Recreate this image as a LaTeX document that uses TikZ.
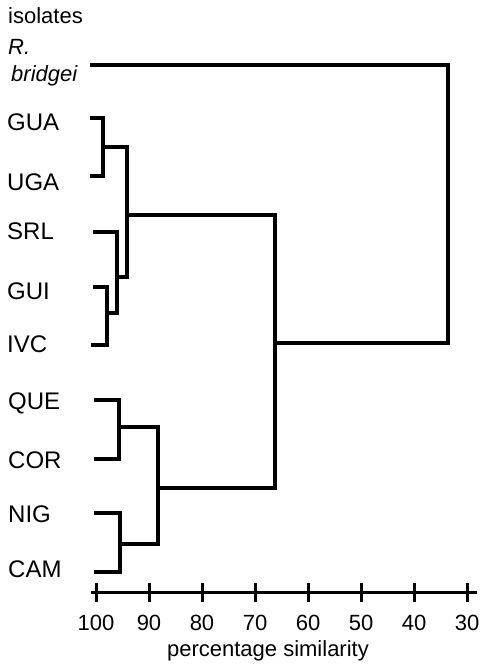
\documentclass[tikz,border=0pt]{standalone}
\usepackage{fontspec}
\setmainfont{Liberation Sans}
\begin{document}
\begin{tikzpicture}[x=1pt,y=-1pt,
  lbl/.style={anchor=west,inner sep=0pt,font=\fontsize{24}{26}\selectfont,text height=17pt,text depth=0pt},
  ticklbl/.style={anchor=center,inner sep=0pt,font=\fontsize{22}{24}\selectfont},
  dend/.style={line width=3.2pt,line cap=rect},
  axisline/.style={line width=3pt}]
\useasboundingbox (0,0) rectangle (479,666);
% labels
\node[lbl,font=\fontsize{22}{24}\selectfont] (iso) at (8,15) {isolates};
\node[lbl,font=\fontsize{22}{24}\selectfont\itshape] (r) at (8,46) {R.};
\node[lbl,font=\fontsize{22}{24}\selectfont\itshape] (rb) at (11,73) {bridgei};
\node[lbl] (gua) at (7,122) {GUA};
\node[lbl] (uga) at (7,182) {UGA};
\node[lbl] (srl) at (7,231) {SRL};
\node[lbl] (gui) at (7,291) {GUI};
\node[lbl] (ivc) at (7,344) {IVC};
\node[lbl] (que) at (8,401) {QUE};
\node[lbl] (cor) at (8,460) {COR};
\node[lbl] (nig) at (8,514) {NIG};
\node[lbl] (cam) at (8,569) {CAM};
% leaf ends
\coordinate (lrb) at (92,65);
\coordinate (lgua) at (92,118);
\coordinate (luga) at (92,176);
\coordinate (lsrl) at (95,232);
\coordinate (lgui) at (95,287);
\coordinate (livc) at (93,345);
\coordinate (lque) at (96,400);
\coordinate (lcor) at (96,459);
\coordinate (lnig) at (96,513);
\coordinate (lcam) at (96,572);
% joints
\coordinate (j1) at (103,147);
\coordinate (j2) at (107,313);
\coordinate (j3) at (117,277);
\coordinate (j4) at (127,215);
\coordinate (j5) at (119,427);
\coordinate (j6) at (120,544);
\coordinate (j7) at (158,488);
\coordinate (j8) at (275,343);
\coordinate (root) at (448,200);
% dendrogram
\draw[dend] (lgua) -| (j1) |- (luga);
\draw[dend] (lgui) -| (j2) |- (livc);
\draw[dend] (j2) -- (j2 -| j3);
\draw[dend] (lsrl) -| (j3) |- (j2);
\draw[dend] (j1) -| (j4) |- (j3);
\draw[dend] (lque) -| (j5) |- (lcor);
\draw[dend] (lnig) -| (j6) |- (lcam);
\draw[dend] (j5) -| (j7) |- (j6);
\draw[dend] (j4) -| (j8) |- (j7);
\draw[dend] (lrb) -| (root) |- (j8);
% axis
\coordinate (a0) at (91,592);
\coordinate (a1) at (477,592);
\draw[axisline] (a0) -- (a1);
\foreach \v [count=\i from 0] in {100,90,80,70,60,50,40,30} {
  \coordinate (t\i) at ({96+\i*53},592);
  \draw[axisline] ([yshift=9pt]t\i) -- ([yshift=-10pt]t\i);
  \node[ticklbl] (tl\i) at ([yshift=-31pt]t\i) {\v};
}
\node[ticklbl] (xlab) at (268,651) {percentage similarity};
\end{tikzpicture}
\end{document}
